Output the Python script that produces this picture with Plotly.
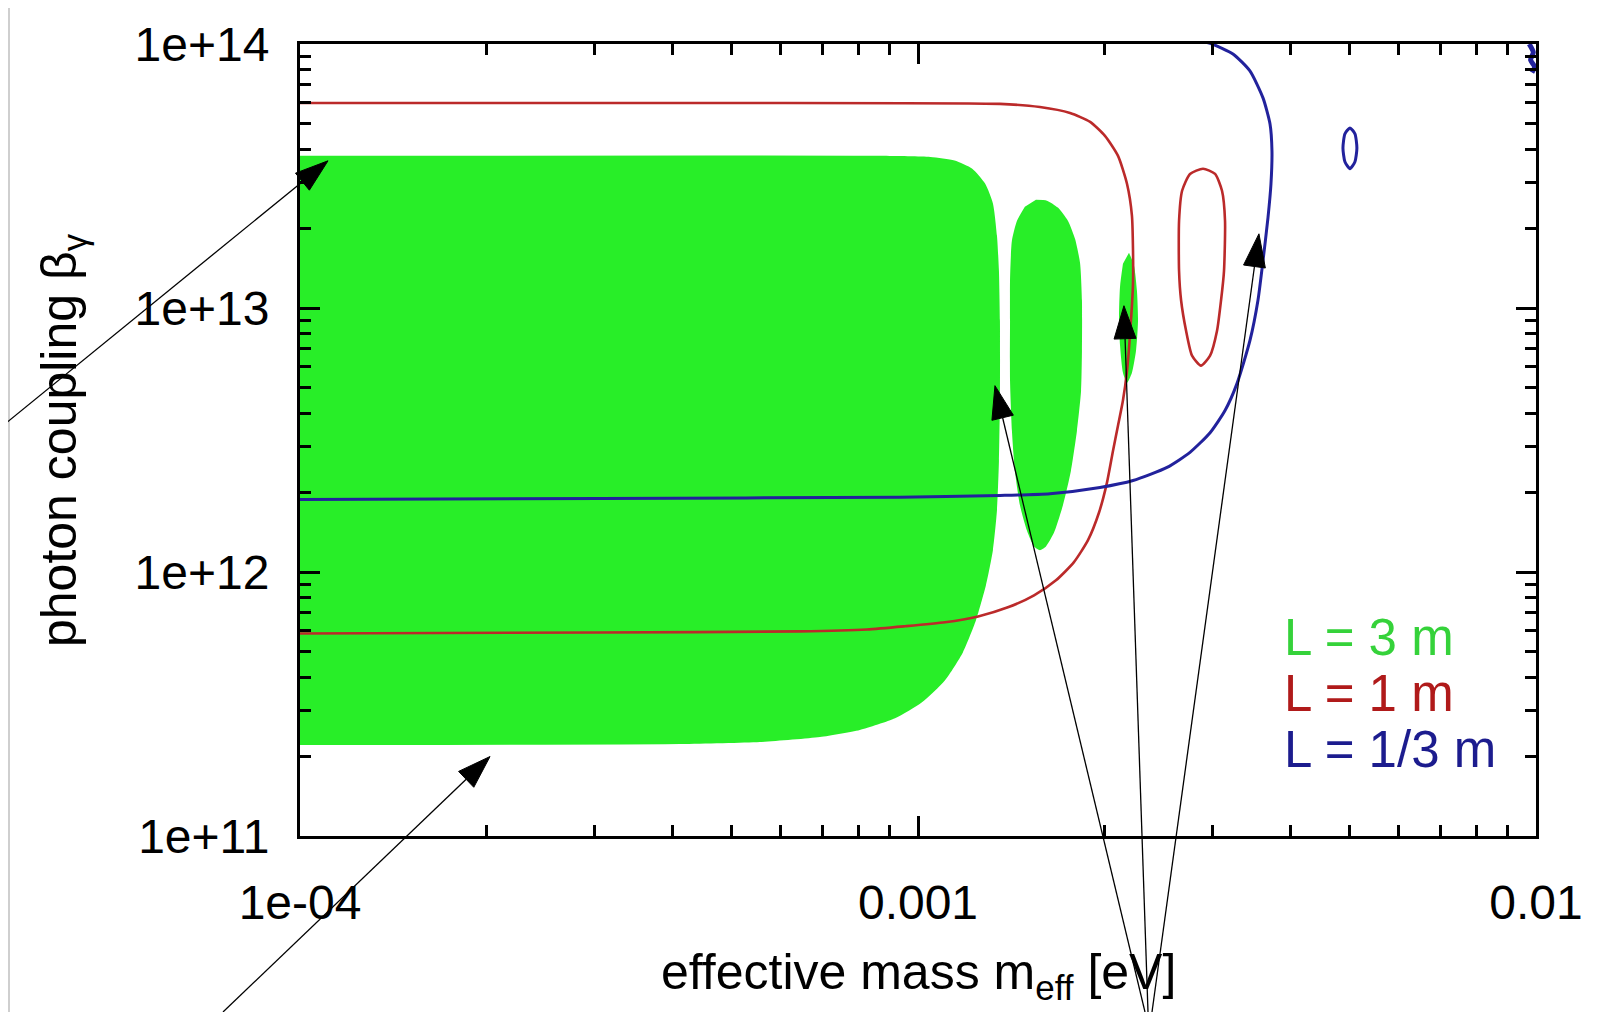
import math
import plotly.graph_objects as go

# ---------------- data ----------------
# L = 3 m  (green filled sensitivity region: main lobe + two side lobes)
green_main_m = [1.0e-4, 8.68e-4, 1.047e-3, 1.146e-3, 1.224e-3, 1.284e-3, 1.322e-3, 1.342e-3,
                1.352e-3, 1.357e-3, 1.357e-3, 1.352e-3, 1.342e-3, 1.322e-3, 1.288e-3, 1.241e-3,
                1.182e-3, 1.106e-3, 1.015e-3, 9.18e-4, 8.05e-4, 6.94e-4, 5.55e-4, 4.12e-4, 1.0e-4]
green_main_b = [3.77e13, 3.77e13, 3.73e13, 3.62e13, 3.37e13, 2.96e13, 2.49e13, 1.88e13,
                1.38e13, 8.95e12, 4.46e12, 2.64e12, 1.71e12, 1.21e12, 8.90e11, 6.56e11,
                4.96e11, 3.89e11, 3.21e11, 2.79e11, 2.52e11, 2.37e11, 2.27e11, 2.23e11, 2.21e11]

green_lobe2_m = [1.552e-3, 1.617e-3, 1.684e-3, 1.748e-3, 1.795e-3, 1.829e-3, 1.842e-3, 1.842e-3,
                 1.836e-3, 1.808e-3, 1.768e-3, 1.716e-3, 1.660e-3, 1.611e-3, 1.575e-3, 1.541e-3,
                 1.500e-3, 1.462e-3, 1.435e-3, 1.419e-3, 1.409e-3, 1.409e-3, 1.409e-3, 1.419e-3,
                 1.446e-3, 1.489e-3]
green_lobe2_b = [2.57e13, 2.55e13, 2.40e13, 2.14e13, 1.83e13, 1.48e13, 1.07e13, 6.89e12,
                 4.86e12, 3.43e12, 2.42e12, 1.79e12, 1.41e12, 1.25e12, 1.21e12, 1.25e12,
                 1.44e12, 1.79e12, 2.42e12, 3.43e12, 5.31e12, 8.95e12, 1.27e13, 1.80e13,
                 2.14e13, 2.42e13]

green_lobe3_m = [2.195e-3, 2.236e-3, 2.261e-3, 2.270e-3, 2.253e-3, 2.219e-3, 2.179e-3, 2.146e-3,
                 2.123e-3, 2.115e-3, 2.123e-3, 2.146e-3]
green_lobe3_b = [1.62e13, 1.45e13, 1.16e13, 8.95e12, 6.89e12, 5.69e12, 5.21e12, 5.69e12,
                 7.20e12, 9.35e12, 1.21e13, 1.47e13]

# L = 1 m  (red contour + small island)
red_main_m = [1.0e-4, 4.44e-4, 1.357e-3, 1.575e-3, 1.762e-3, 1.899e-3, 2.007e-3, 2.107e-3,
              2.179e-3, 2.219e-3, 2.228e-3, 2.228e-3, 2.211e-3, 2.179e-3, 2.146e-3, 2.107e-3,
              2.068e-3, 2.022e-3, 1.963e-3, 1.884e-3, 1.788e-3, 1.672e-3, 1.541e-3, 1.398e-3,
              1.251e-3, 1.106e-3, 9.53e-4, 8.27e-4, 6.44e-4, 3.06e-4, 1.0e-4]
red_main_b = [5.98e13, 5.98e13, 5.93e13, 5.77e13, 5.48e13, 5.07e13, 4.49e13, 3.77e13,
              2.95e13, 2.24e13, 1.65e13, 1.24e13, 8.95e12, 5.79e12, 4.46e12, 3.59e12,
              2.88e12, 2.18e12, 1.68e12, 1.32e12, 1.09e12, 9.30e11, 8.16e11, 7.35e11,
              6.79e11, 6.45e11, 6.23e11, 6.06e11, 5.96e11, 5.90e11, 5.85e11]

red_island_m = [2.892e-3, 3.025e-3, 3.104e-3, 3.139e-3, 3.127e-3, 3.093e-3, 3.047e-3, 2.969e-3,
                2.870e-3, 2.776e-3, 2.715e-3, 2.665e-3, 2.645e-3, 2.645e-3, 2.675e-3, 2.755e-3, 2.892e-3]
red_island_b = [3.37e13, 3.22e13, 2.78e13, 2.14e13, 1.38e13, 1.07e13, 8.20e12, 6.60e12,
                6.05e12, 6.60e12, 8.20e12, 1.07e13, 1.38e13, 2.14e13, 2.78e13, 3.22e13, 3.37e13]

# L = 1/3 m  (blue contour + small island + corner fragment)
blue_main_m = [1.0e-4, 3.06e-4, 9.35e-4, 1.357e-3, 1.635e-3, 1.970e-3, 2.228e-3, 2.529e-3,
               2.755e-3, 2.969e-3, 3.139e-3, 3.282e-3, 3.444e-3, 3.549e-3, 3.616e-3, 3.684e-3,
               3.725e-3, 3.739e-3, 3.712e-3, 3.616e-3, 3.444e-3, 3.233e-3, 2.991e-3, 2.808e-3]
blue_main_b = [1.88e12, 1.90e12, 1.92e12, 1.95e12, 1.98e12, 2.09e12, 2.22e12, 2.49e12,
               2.84e12, 3.37e12, 4.09e12, 5.17e12, 7.52e12, 1.07e13, 1.51e13, 2.20e13,
               2.95e13, 3.94e13, 4.98e13, 6.25e13, 7.91e13, 9.17e13, 1.0e14, 1.04e14]

blue_island_m = [5.000e-3, 5.094e-3, 5.131e-3, 5.094e-3, 5.000e-3, 4.907e-3, 4.871e-3, 4.907e-3, 5.000e-3]
blue_island_b = [4.81e13, 4.57e13, 4.04e13, 3.58e13, 3.37e13, 3.58e13, 4.04e13, 4.57e13, 4.81e13]

blue_corner_m = [9.75e-3, 9.90e-3, 9.80e-3, 9.95e-3, 9.85e-3]
blue_corner_b = [1.0e14, 9.3e13, 8.7e13, 8.2e13, 7.8e13]

# arrows: tips in data units, tails as pixel positions on the figure
arrow_tip_m = [1.11e-4, 2.03e-4, 1.332e-3, 2.154e-3, 3.562e-3]
arrow_tip_b = [3.61e13, 2.00e11, 5.08e12, 1.02e13, 1.91e13]
arrow_tail_px = [(-8, 420), (215, 1004), (1137, 1004), (1140, 1004), (1144, 1004)]

legend_labels = ["L = 3 m", "L = 1 m", "L = 1/3 m"]
legend_colors = ["#35d23a", "#b01a1a", "#1c1c8e"]

x_tickvals = [1e-4, 1e-3, 1e-2]
x_ticktext = ["1e-04", "0.001", "0.01"]
y_tickvals = [1e11, 1e12, 1e13, 1e14]
y_ticktext = ["1e+11", "1e+12", "1e+13", "1e+14"]

# ---------------- layout geometry (figure pixels; page adds an 8px body margin) ----------------
W, H = 1592, 1004
ML, MR, MT, MB = 292, 64, 36, 176
PW, PH = W - ML - MR, H - MT - MB
XR = [-4, -2]
YR = [11, 14]

FONT = "Liberation Sans, Arial, Helvetica, sans-serif"
GREEN = "#28ee28"
RED = "#bb2a2a"
BLUE = "#22229c"


def to_px(m, b):
    px = ML + (math.log10(m) - XR[0]) / (XR[1] - XR[0]) * PW
    py = MT + (YR[1] - math.log10(b)) / (YR[1] - YR[0]) * PH
    return px, py


def px_to_paper(px, py):
    return (px - ML) / PW, (MT + PH - py) / PH


fig = go.Figure()

for mx, by in [(green_main_m, green_main_b), (green_lobe2_m, green_lobe2_b), (green_lobe3_m, green_lobe3_b)]:
    fig.add_trace(go.Scatter(x=mx, y=by, mode="lines", fill="toself", fillcolor=GREEN,
                             line=dict(width=0, color=GREEN, shape="spline", smoothing=0.6),
                             hoverinfo="skip", showlegend=False))

for mx, by in [(red_main_m, red_main_b), (red_island_m, red_island_b)]:
    fig.add_trace(go.Scatter(x=mx, y=by, mode="lines",
                             line=dict(color=RED, width=2.6, shape="spline", smoothing=0.6),
                             hoverinfo="skip", showlegend=False))

for mx, by, w in [(blue_main_m, blue_main_b, 3), (blue_island_m, blue_island_b, 3),
                  (blue_corner_m, blue_corner_b, 5)]:
    fig.add_trace(go.Scatter(x=mx, y=by, mode="lines",
                             line=dict(color=BLUE, width=w, shape="spline", smoothing=0.6),
                             hoverinfo="skip", showlegend=False))

shapes = []
# thin grey strip of the textured page border on the left
shapes.append(dict(type="rect", xref="paper", yref="paper", layer="below",
                   x0=(0 - ML) / PW, x1=(2 - ML) / PW,
                   y0=(MT + PH - H) / PH, y1=(MT + PH) / PH,
                   fillcolor="#cfcfcf", line=dict(width=0)))

HEAD_LEN, HEAD_HALF = 33, 11
for m, b, (sx, sy) in zip(arrow_tip_m, arrow_tip_b, arrow_tail_px):
    tx, ty = to_px(m, b)
    dx, dy = tx - sx, ty - sy
    d = math.hypot(dx, dy)
    ux, uy = dx / d, dy / d
    nx, ny = -uy, ux
    bx, by_ = tx - ux * HEAD_LEN, ty - uy * HEAD_LEN
    p0 = px_to_paper(sx, sy)
    p1 = px_to_paper(bx, by_)
    shapes.append(dict(type="line", xref="paper", yref="paper", x0=p0[0], y0=p0[1],
                       x1=p1[0], y1=p1[1], line=dict(color="black", width=1.3)))
    c1 = px_to_paper(bx + nx * HEAD_HALF, by_ + ny * HEAD_HALF)
    c2 = px_to_paper(bx - nx * HEAD_HALF, by_ - ny * HEAD_HALF)
    tp = px_to_paper(tx, ty)
    path = f"M {tp[0]} {tp[1]} L {c1[0]} {c1[1]} L {c2[0]} {c2[1]} Z"
    shapes.append(dict(type="path", xref="paper", yref="paper", path=path,
                       fillcolor="black", line=dict(color="black", width=1)))

annotations = []
for i, (lab, col) in enumerate(zip(legend_labels, legend_colors)):
    annotations.append(dict(xref="paper", yref="paper", x=(1274 - ML) / PW,
                            y=(MT + PH - (629 + 56 * i)) / PH, xanchor="left", yanchor="middle",
                            text=lab, showarrow=False, font=dict(family=FONT, size=51, color=col)))

annotations.append(dict(xref="paper", yref="paper", x=0.5, y=(MT + PH - 967) / PH,
                        xanchor="center", yanchor="middle", showarrow=False,
                        text="effective mass m<sub>eff</sub> [eV]",
                        font=dict(family=FONT, size=50, color="black")))
annotations.append(dict(xref="paper", yref="paper", x=(54 - ML) / PW, y=0.5,
                        xanchor="center", yanchor="middle", showarrow=False, textangle=-90,
                        text="photon coupling β<sub>γ</sub>",
                        font=dict(family=FONT, size=50, color="black")))

minor_x = [k * 10 ** e for e in (-4, -3) for k in range(2, 10)]
minor_y = [k * 10 ** e for e in (11, 12, 13) for k in range(2, 10)]

axis_common = dict(type="log", showgrid=False, zeroline=False, showline=True, linewidth=3,
                   linecolor="black", mirror="ticks", ticks="inside", ticklen=20, tickwidth=3,
                   tickcolor="black", tickfont=dict(family=FONT, size=48, color="black"))

fig.update_layout(
    width=W, height=H,
    margin=dict(l=ML, r=MR, t=MT, b=MB, autoexpand=False),
    paper_bgcolor="white", plot_bgcolor="white",
    showlegend=False,
    xaxis=dict(range=XR, tickmode="array", tickvals=x_tickvals, ticktext=x_ticktext,
               ticklabelstandoff=22,
               minor=dict(tickmode="array", tickvals=minor_x, ticks="inside", ticklen=11,
                          tickwidth=2.5, tickcolor="black", showgrid=False),
               **axis_common),
    yaxis=dict(range=YR, tickmode="array", tickvals=y_tickvals, ticktext=y_ticktext,
               ticklabelstandoff=18,
               minor=dict(tickmode="array", tickvals=minor_y, ticks="inside", ticklen=11,
                          tickwidth=2.5, tickcolor="black", showgrid=False),
               **axis_common),
    shapes=shapes,
    annotations=annotations,
)

fig.write_html("out.html")
